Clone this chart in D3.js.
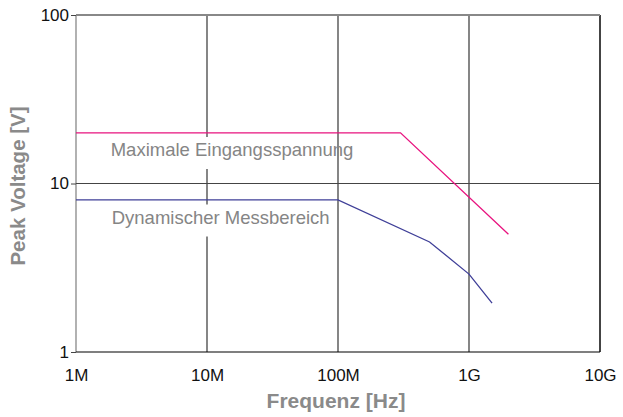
<!DOCTYPE html>
<html>
<head>
<meta charset="utf-8">
<script src="https://cdn.jsdelivr.net/npm/d3@7"></script>
<style>
  body { margin: 0; background: #fff; }
  svg { display: block; font-family: "Liberation Sans", Arial, sans-serif; }
</style>
</head>
<body>
<div id="chart"></div>
<script>
// frequency ticks and labels
const xTicks = [1e6, 1e7, 1e8, 1e9, 1e10];
const xTickLabels = ["1M", "10M", "100M", "1G", "10G"];
const yTicks = [1, 10, 100];
const yTickLabels = ["1", "10", "100"];

// Maximale Eingangsspannung
const maxFreq = [1e6, 3e8, 2e9];
const maxVolt = [20, 20, 5];

// Dynamischer Messbereich
const dynFreq = [1e6, 1e8, 5e8, 1e9, 1.5e9];
const dynVolt = [8, 8, 4.5, 2.9, 1.95];

const seriesNames = ["Maximale Eingangsspannung", "Dynamischer Messbereich"];

const W = 623, H = 417;
const margin = { top: 15, right: 23, bottom: 65, left: 76 };
const width = W - margin.left - margin.right;
const height = H - margin.top - margin.bottom;

const svg = d3.select("#chart").append("svg")
    .attr("width", W).attr("height", H);

const g = svg.append("g")
    .attr("transform", `translate(${margin.left},${margin.top})`);

const x = d3.scaleLog().domain([1e6, 1e10]).range([0, width]);
const y = d3.scaleLog().domain([1, 100]).range([height, 0]);

// grid
g.selectAll(".vgrid").data(xTicks).enter().append("line")
    .attr("x1", d => x(d)).attr("x2", d => x(d))
    .attr("y1", 0).attr("y2", height)
    .attr("stroke", d => d === 1e6 ? "#888" : "#444")
    .attr("stroke-width", d => d === 1e10 ? 2 : 1.3);

g.selectAll(".hgrid").data(yTicks).enter().append("line")
    .attr("x1", 0).attr("x2", width)
    .attr("y1", d => y(d)).attr("y2", d => y(d))
    .attr("stroke", d => d === 100 ? "#888" : (d === 1 ? "#000" : "#444"))
    .attr("stroke-width", d => d === 100 ? 2 : 1.2);

// axes
const yAxis = g.append("g")
    .call(d3.axisLeft(y).tickValues(yTicks).tickFormat((d, i) => yTickLabels[i]).tickSize(5).tickPadding(2));
yAxis.select(".domain").remove();
yAxis.selectAll("line").attr("stroke", "#444");
yAxis.selectAll("text").attr("font-size", 17).attr("fill", "#111")
    .attr("font-family", "Liberation Sans, Arial, sans-serif");

const xAxis = g.append("g")
    .attr("transform", `translate(0,${height})`)
    .call(d3.axisBottom(x).tickValues(xTicks).tickFormat((d, i) => xTickLabels[i]).tickSize(0).tickPadding(17));
xAxis.select(".domain").remove();
xAxis.selectAll("text").attr("font-size", 17).attr("fill", "#111")
    .attr("font-family", "Liberation Sans, Arial, sans-serif");

// series labels with white boxes (boxes stop before the 100M line)
const labelPos = [[110.7 - margin.left, 156 - margin.top], [111.7 - margin.left, 223.5 - margin.top]];
const boxG = g.append("g");
const lineG = g.append("g");
const textG = g.append("g");

labelPos.forEach((p, i) => {
    const t = textG.append("text")
        .attr("x", p[0]).attr("y", p[1])
        .attr("font-size", 18.5)
        .attr("fill", "#858585")
        .text(seriesNames[i]);
    const bb = t.node().getBBox();
    const right = Math.min(bb.x + bb.width + 3, x(1e8) - 2);
    boxG.append("rect")
        .attr("x", bb.x - 3).attr("y", bb.y - 2)
        .attr("width", right - bb.x + 3).attr("height", bb.height + 11)
        .attr("fill", "#fff");
});

const line = d3.line().x(d => x(d[0])).y(d => y(d[1]));

lineG.append("path")
    .datum(maxFreq.map((f, i) => [f, maxVolt[i]]))
    .attr("d", line)
    .attr("fill", "none")
    .attr("stroke", "#e8137f")
    .attr("stroke-width", 1.3);

lineG.append("path")
    .datum(dynFreq.map((f, i) => [f, dynVolt[i]]))
    .attr("d", line)
    .attr("fill", "none")
    .attr("stroke", "#3f3f98")
    .attr("stroke-width", 1.3);

// axis titles
svg.append("text")
    .attr("x", 336).attr("y", 408)
    .attr("text-anchor", "middle")
    .attr("font-size", 21).attr("font-weight", "bold")
    .attr("fill", "#8a8a8a")
    .text("Frequenz [Hz]");

svg.append("text")
    .attr("transform", "translate(25,186) rotate(-90)")
    .attr("text-anchor", "middle")
    .attr("font-size", 20.5).attr("font-weight", "bold")
    .attr("fill", "#8a8a8a")
    .text("Peak Voltage [V]");
</script>
</body>
</html>
